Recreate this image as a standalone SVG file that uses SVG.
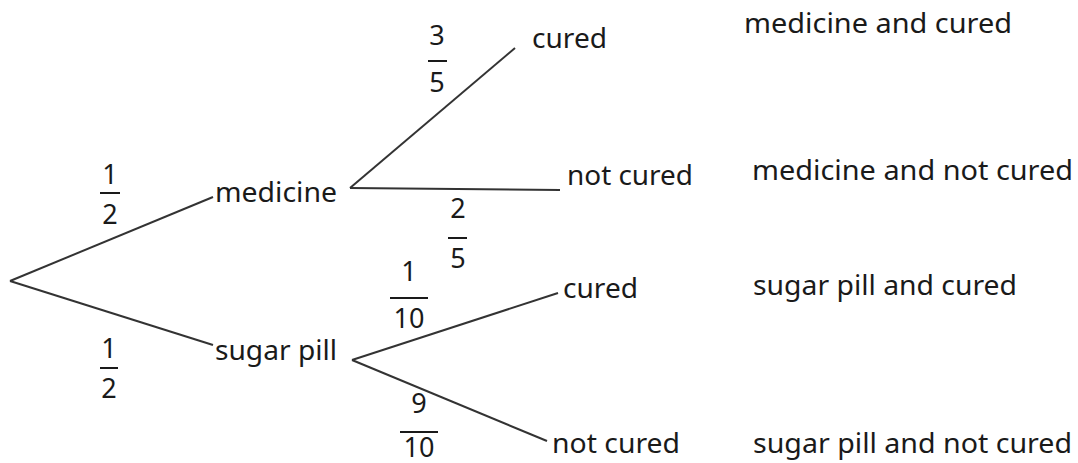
<svg xmlns="http://www.w3.org/2000/svg" width="1078" height="463" viewBox="0 0 1078 463">
<style>
.t{font-family:"Noto Sans","Open Sans","Liberation Sans",sans-serif;font-size:27px;fill:#1a1a1a}
.f{font-family:"Noto Sans","Open Sans","Liberation Sans",sans-serif;font-size:27px;fill:#1a1a1a;text-anchor:middle}
.e{stroke:#333;stroke-width:2;fill:none}
.b{stroke:#1a1a1a;stroke-width:2}
</style>
<rect width="1078" height="463" fill="#fff"/>
<g id="connectors">
<line class="e" x1="10" y1="281" x2="213" y2="197"/>
<line class="e" x1="10" y1="281" x2="213" y2="345"/>
<line class="e" x1="350" y1="188" x2="515" y2="48"/>
<line class="e" x1="350" y1="188" x2="560" y2="190"/>
<line class="e" x1="352" y1="360" x2="558" y2="293"/>
<line class="e" x1="352" y1="360" x2="547" y2="441"/>
</g>
<g id="edge-labels">
<g id="p-medicine"><text class="f" x="110" y="184">1</text><line class="b" x1="100" y1="193" x2="120" y2="193"/><text class="f" x="110" y="224">2</text></g>
<g id="p-sugar"><text class="f" x="109" y="358">1</text><line class="b" x1="100" y1="368" x2="118" y2="368"/><text class="f" x="109" y="398">2</text></g>
<g id="p-med-cured"><text class="f" x="437" y="45">3</text><line class="b" x1="428" y1="61" x2="447" y2="61"/><text class="f" x="437" y="92">5</text></g>
<g id="p-med-notcured"><text class="f" x="458" y="218">2</text><line class="b" x1="448" y1="238" x2="467" y2="238"/><text class="f" x="458" y="268">5</text></g>
<g id="p-sug-cured"><text class="f" x="409" y="281">1</text><line class="b" x1="390" y1="298" x2="428" y2="298"/><text class="f" x="409" y="328">10</text></g>
<g id="p-sug-notcured"><text class="f" x="419" y="413">9</text><line class="b" x1="400" y1="432" x2="438" y2="432"/><text class="f" x="419" y="457">10</text></g>
</g>
<g id="medicine"><text class="t" x="215" y="202" textLength="122" lengthAdjust="spacingAndGlyphs">medicine</text></g>
<g id="sugar-pill"><text class="t" x="215" y="360" textLength="122" lengthAdjust="spacingAndGlyphs">sugar pill</text></g>
<g id="med-cured"><text class="t" x="532" y="48" textLength="75" lengthAdjust="spacingAndGlyphs">cured</text></g>
<g id="med-notcured"><text class="t" x="567" y="185" textLength="126" lengthAdjust="spacingAndGlyphs">not cured</text></g>
<g id="sug-cured"><text class="t" x="563" y="298" textLength="75" lengthAdjust="spacingAndGlyphs">cured</text></g>
<g id="sug-notcured"><text class="t" x="552" y="453" textLength="128" lengthAdjust="spacingAndGlyphs">not cured</text></g>
<g id="outcome-1"><text class="t" x="744" y="33" textLength="268" lengthAdjust="spacingAndGlyphs">medicine and cured</text></g>
<g id="outcome-2"><text class="t" x="752" y="180" textLength="321" lengthAdjust="spacingAndGlyphs">medicine and not cured</text></g>
<g id="outcome-3"><text class="t" x="753" y="295" textLength="264" lengthAdjust="spacingAndGlyphs">sugar pill and cured</text></g>
<g id="outcome-4"><text class="t" x="753" y="453" textLength="319" lengthAdjust="spacingAndGlyphs">sugar pill and not cured</text></g>
</svg>
